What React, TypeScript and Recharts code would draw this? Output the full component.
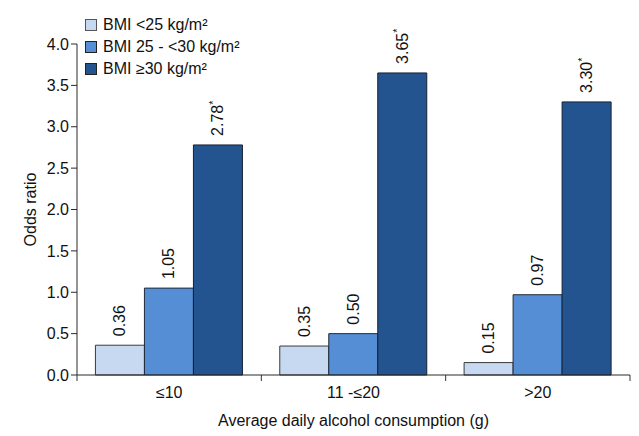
import React from "react";
import { Bar, BarChart, LabelList, XAxis, YAxis } from "recharts";

const categories = ["≤10", "11 -≤20", ">20"];
const bmiUnder25 = [0.36, 0.35, 0.15];
const bmi25to30 = [1.05, 0.5, 0.97];
const bmiOver30 = [2.78, 3.65, 3.3];
const significant = [true, true, true];
const yTicks = [0, 0.5, 1, 1.5, 2, 2.5, 3, 3.5, 4];

const SERIES = [
  { key: "low", name: "BMI <25 kg/m²", fill: "#C6D9F1", stroke: "#3a3a3a" },
  { key: "mid", name: "BMI 25 - <30 kg/m²", fill: "#558ED5", stroke: "#1f2a3a" },
  { key: "high", name: "BMI ≥30 kg/m²", fill: "#245490", stroke: "#142033" },
];

const data = categories.map((c, i) => ({
  cat: c,
  low: bmiUnder25[i],
  mid: bmi25to30[i],
  high: bmiOver30[i],
  star: significant[i],
}));

const W = 639;
const H = 436;
const M = { top: 44, right: 9, left: 0, bottom: 12 };
const Y_W = 77;
const BAND = (W - M.left - M.right - Y_W) / categories.length;
const FONT = "'Liberation Sans', Arial, sans-serif";
const FS = 16;

function XTick(props: any) {
  const { x, y, payload, index } = props;
  const last = index === categories.length - 1;
  return (
    <g>
      <line x1={x - BAND / 2} x2={x - BAND / 2} y1={y - 8} y2={y - 2} stroke="#333" />
      {last && <line x1={x + BAND / 2} x2={x + BAND / 2} y1={y - 8} y2={y - 2} stroke="#333" />}
      <text x={x} y={y + 15} textAnchor="middle" fontSize={FS} fill="#111" fontFamily={FONT}>
        {payload.value}
      </text>
    </g>
  );
}

function makeLabel(withStar: boolean) {
  return (props: any) => {
    const { x, y, width, value, index } = props;
    const cx = x + width / 2;
    const cy = y - 9;
    const star = withStar && data[index]?.star;
    return (
      <text
        x={cx}
        y={cy}
        transform={`rotate(-90 ${cx} ${cy})`}
        textAnchor="start"
        dominantBaseline="central"
        fontSize={FS}
        fill="#111"
        fontFamily={FONT}
      >
        {Number(value).toFixed(2)}
        {star && (
          <tspan fontSize={11} dy={-5}>
            *
          </tspan>
        )}
      </text>
    );
  };
}

function LegendBox() {
  return (
    <div
      style={{
        position: "absolute",
        left: 85,
        top: 14,
        fontFamily: FONT,
        fontSize: FS,
        color: "#111",
        lineHeight: "22px",
      }}
    >
      {SERIES.map((s) => (
        <div key={s.key} style={{ display: "flex", alignItems: "center", height: 22 }}>
          <span
            style={{
              display: "inline-block",
              width: 10,
              height: 10,
              background: s.fill,
              border: `1.5px solid ${s.key === "low" ? "#555" : "#222"}`,
              marginRight: 6,
            }}
          />
          {s.name}
        </div>
      ))}
    </div>
  );
}

export default function App() {
  return (
    <div style={{ position: "absolute", left: 0, top: 0, width: W, height: H, background: "#fff" }}>
      <BarChart width={W} height={H} data={data} margin={M} barCategoryGap="10%" barGap={0}>
        <XAxis
          dataKey="cat"
          tick={<XTick />}
          tickLine={false}
          axisLine={{ stroke: "#2a2a2a" }}
          height={49}
          interval={0}
          label={{
            value: "Average daily alcohol consumption (g)",
            position: "insideBottom",
            offset: -2,
            fontSize: FS,
            fill: "#111",
            fontFamily: FONT,
          }}
        />
        <YAxis
          width={Y_W}
          domain={[0, 4]}
          ticks={yTicks}
          interval={0}
          tickFormatter={(v: number) => v.toFixed(1)}
          tick={{ fontSize: FS, fill: "#111", fontFamily: FONT }}
          tickLine={{ stroke: "#2a2a2a" }}
          tickSize={6}
          axisLine={{ stroke: "#2a2a2a" }}
          label={{
            value: "Odds ratio",
            angle: -90,
            position: "insideLeft",
            offset: 30,
            style: { textAnchor: "middle" },
            fontSize: FS,
            fill: "#111",
            fontFamily: FONT,
          }}
        />
        {SERIES.map((s) => (
          <Bar
            key={s.key}
            dataKey={s.key}
            name={s.name}
            fill={s.fill}
            stroke={s.stroke}
            strokeWidth={1}
            isAnimationActive={false}
          >
            <LabelList dataKey={s.key} content={makeLabel(s.key === "high")} />
          </Bar>
        ))}
      </BarChart>
      <LegendBox />
    </div>
  );
}
